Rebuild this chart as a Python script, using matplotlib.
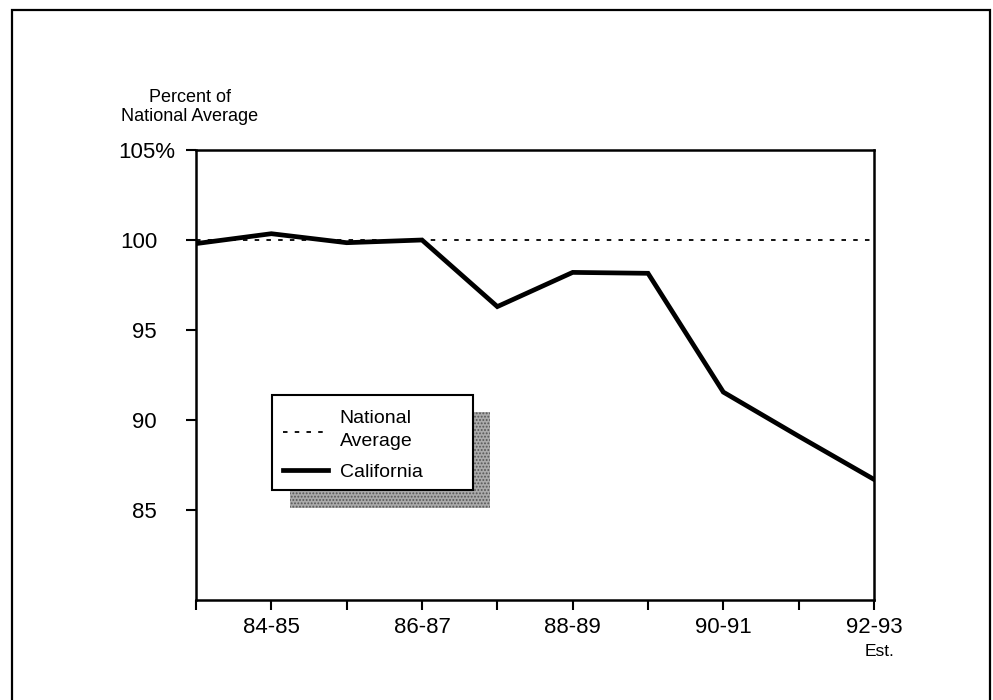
import matplotlib
matplotlib.use('Agg')
import matplotlib.pyplot as plt
import matplotlib.transforms as mtransforms
from matplotlib.patches import Rectangle
from matplotlib.lines import Line2D

plt.rcParams['font.family'] = ['Liberation Sans', 'DejaVu Sans']
plt.rcParams['hatch.linewidth'] = 0.9

# Dados (índice de ano letivo 83-84 ... 92-93)
anos = list(range(10))
california = [99.8, 100.35, 99.85, 100.0, 96.3, 98.2, 98.15, 91.55, 89.1, 86.7]
media_nacional = [100.0] * 10
rotulos_x = ['84-85', '86-87', '88-89', '90-91', '92-93']
pos_rotulos_x = [1, 3, 5, 7, 9]
ticks_y = [85, 90, 95, 100, 105]
rotulos_y = ['85', '90', '95', '100', '105%']

fig = plt.figure(figsize=(9.93, 7.0), dpi=100)
ax = fig.add_axes([196 / 993, 1 - 600 / 700, 678 / 993, 450 / 700])

# moldura externa da figura
fig.add_artist(Rectangle((12 / 993, -0.02), (990 - 12) / 993, 1.02 - 10 / 700,
                         transform=fig.transFigure, fill=False, lw=1.6, ec='black'))

ax.plot(anos, media_nacional, color='black', lw=1.3, linestyle=(0, (2.5, 4)), zorder=2)
ax.plot(anos, california, color='black', lw=3.4, solid_joinstyle='miter', zorder=3)

ax.set_xlim(0, 9)
ax.set_ylim(80, 105)
for s in ax.spines.values():
    s.set_linewidth(1.8)

ax.set_xticks(list(range(10)))
ax.set_xticklabels(['' if i not in pos_rotulos_x else rotulos_x[pos_rotulos_x.index(i)]
                    for i in range(10)], fontsize=16)
ax.tick_params(axis='x', length=7, width=1.5, pad=5)
ax.set_yticks(ticks_y)
ax.set_yticklabels(rotulos_y, fontsize=16)
ax.tick_params(axis='y', length=7, width=1.5, pad=21)

# o "%" fica pendurado à direita dos números
lbl = ax.get_yticklabels()[-1]
lbl.set_transform(lbl.get_transform() + mtransforms.ScaledTranslation(13 / 72, 0, fig.dpi_scale_trans))

ax.annotate('Est.', xy=(9, 0), xycoords=ax.get_xaxis_transform(), xytext=(4, -37),
            textcoords='offset points', ha='center', va='center', fontsize=12.5)

fig.text(190 / 993, 1 - 107 / 700, 'Percent of\nNational Average', ha='center', va='center',
         fontsize=13, linespacing=1.15)

# legenda desenhada à mão (com sombra pontilhada)
ax.add_patch(Rectangle((0.139, 0.204), 0.295, 0.214, transform=ax.transAxes,
                       facecolor='#ababab', edgecolor='#555555', lw=0, hatch='.....', zorder=4))
ax.add_patch(Rectangle((0.112, 0.244), 0.297, 0.212, transform=ax.transAxes,
                       facecolor='white', edgecolor='black', lw=1.5, zorder=5))
ax.add_line(Line2D([0.128, 0.195], [0.373, 0.373], transform=ax.transAxes, color='black',
                   lw=1.3, linestyle=(0, (2.5, 4)), zorder=6))
ax.add_line(Line2D([0.128, 0.195], [0.289, 0.289], transform=ax.transAxes, color='black',
                   lw=3.4, zorder=6))
ax.text(0.212, 0.393, 'National', transform=ax.transAxes, ha='left', va='baseline',
        fontsize=14, zorder=6)
ax.text(0.212, 0.342, 'Average', transform=ax.transAxes, ha='left', va='baseline',
        fontsize=14, zorder=6)
ax.text(0.212, 0.273, 'California', transform=ax.transAxes, ha='left', va='baseline',
        fontsize=14, zorder=6)

fig.savefig('out.png', dpi=100)
